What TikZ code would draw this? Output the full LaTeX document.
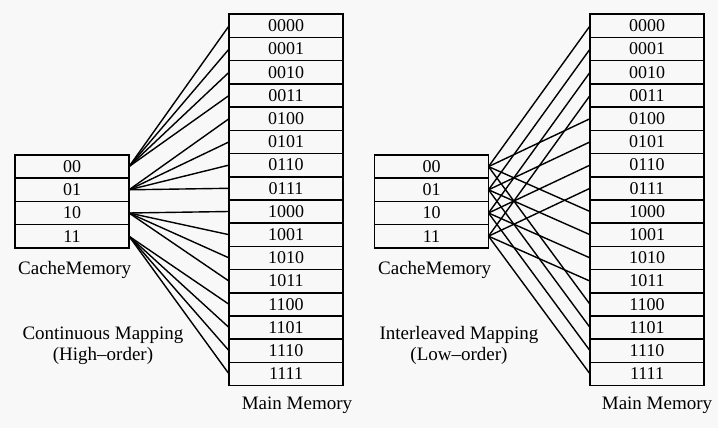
\documentclass[tikz,border=0pt]{standalone}
\usepackage{fontspec}
\setmainfont{Liberation Serif}
\usetikzlibrary{positioning}
\definecolor{paper}{RGB}{248,248,248}

\begin{document}
\begin{tikzpicture}[x=1pt, y=-1pt, every node/.style={font=\fontsize{18}{21}\selectfont}]
\tikzstyle{cell} = [rectangle, draw=black, line width=1.6pt, minimum width=114pt, minimum height=23.2pt, inner sep=0pt, outer sep=0pt, text centered]
\tikzstyle{link} = [line width=1.4pt]
\tikzstyle{caption} = [inner sep=0pt, font=\fontsize{19}{22}\selectfont]

\fill[paper] (0,0) rectangle (718,428);
\useasboundingbox (0,0) rectangle (718,428);

% Cache nodes
\foreach \b [count=\i from 0] in {00,01,10,11} {
  \node (cA-\i) [cell] at (72,166.6+23.2*\i) {\b};
  \node (cB-\i) [cell] at (431.5,166.6+23.2*\i) {\b};
}

% Main memory nodes
\foreach \b [count=\i from 0] in {0000,0001,0010,0011,0100,0101,0110,0111,1000,1001,1010,1011,1100,1101,1110,1111} {
  \node (mA-\i) [cell] at (286,25.9+23.2*\i) {\b};
  \node (mB-\i) [cell] at (647,25.9+23.2*\i) {\b};
}

% Labels
\node (cacheA) [caption, anchor=west] at (18,270) {CacheMemory};
\node (cacheB) [caption, anchor=west] at (378,270) {CacheMemory};
\node (mapA) [caption] at (103,335) {Continuous Mapping};
\node (orderA) [caption] at (103,356) {(High--order)};
\node (mapB) [caption] at (459,335) {Interleaved Mapping};
\node (orderB) [caption] at (459,356) {(Low--order)};
\node (mainA) [caption] at (297,405) {Main Memory};
\node (mainB) [caption] at (657,405) {Main Memory};

% Lines
\foreach \i in {0,...,3}
  \foreach \k in {0,...,3} {
    \pgfmathtruncatemacro\j{4*\i+\k}
    \pgfmathtruncatemacro\n{4*\k+\i}
    \draw [link] (cA-\i.east) -- (mA-\j.west);
    \draw [link] (cB-\i.east) -- (mB-\n.west);
  }

\end{tikzpicture}
\end{document}
